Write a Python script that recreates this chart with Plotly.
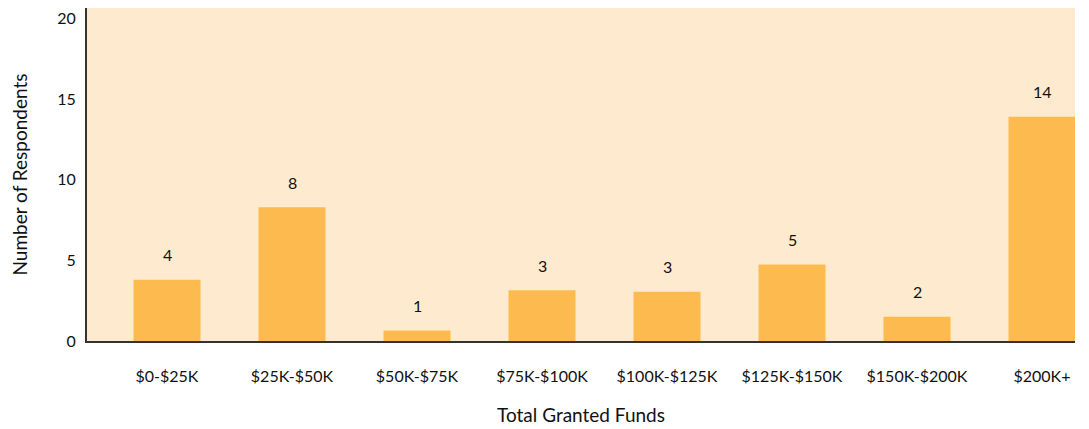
import plotly.graph_objects as go

# Total granted funds bands and the respondent counts shown over each bar
fund_bands = ["$0-$25K", "$25K-$50K", "$50K-$75K", "$75K-$100K",
              "$100K-$125K", "$125K-$150K", "$150K-$200K", "$200K+"]
respondents = [4, 8, 1, 3, 3, 5, 2, 14]
# bar heights as drawn in the original graphic
bar_heights = [3.8, 8.3, 0.65, 3.15, 3.05, 4.75, 1.5, 13.9]

y_ticks = [0, 5, 10, 15, 20]

bar_color = "#FDBB4F"
bg_color = "#FEEBCF"
ink = "#111111"
font = "Lato, 'Noto Sans', sans-serif"

fig = go.Figure()
fig.add_trace(go.Bar(x=list(range(len(fund_bands))), y=bar_heights,
                     marker=dict(color=bar_color, line=dict(width=0)),
                     width=0.536, hoverinfo="skip"))

# count labels above bars
for i, (h, n) in enumerate(zip(bar_heights, respondents)):
    fig.add_annotation(x=i, y=h, text=str(n), showarrow=False,
                       yanchor="middle", yshift=25,
                       font=dict(size=16, color=ink, family=font))

# page body adds 8px around the figure, so size it to fit the window
fig.update_layout(
    width=1081, height=421,
    margin=dict(l=79, r=14, t=0, b=88),
    paper_bgcolor="white", plot_bgcolor=bg_color,
    showlegend=False,
    font=dict(family=font, color=ink, size=16),
)
fig.update_xaxes(
    range=[-0.64, 7.264],
    tickvals=list(range(len(fund_bands))), ticktext=fund_bands,
    showgrid=False, zeroline=False, ticks="",
    showline=True, linecolor="#333333", linewidth=2,
    ticklabelstandoff=20,
    tickfont=dict(size=16, color=ink),
    title=dict(text="Total Granted Funds", standoff=24,
               font=dict(size=19, color=ink)),
)
fig.update_yaxes(
    range=[0, 20.65], tickvals=y_ticks,
    showgrid=False, zeroline=False, ticks="",
    showline=True, linecolor="#333333", linewidth=2,
    ticklabelstandoff=6,
    tickfont=dict(size=16, color=ink),
    title=dict(text="Number of Respondents", standoff=27,
               font=dict(size=19, color=ink)),
)

fig.write_html("out.html")
